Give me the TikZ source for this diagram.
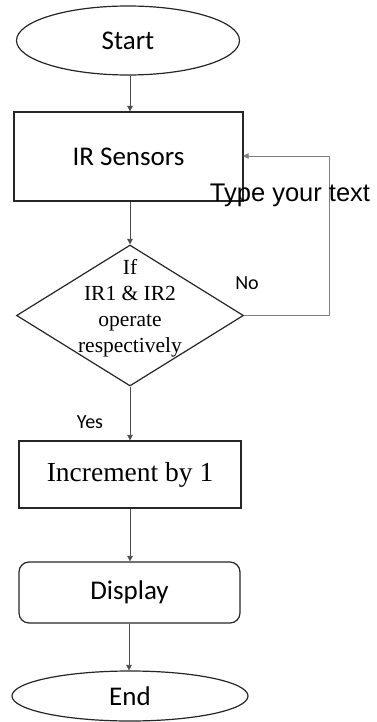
\documentclass[tikz,border=0pt]{standalone}
\usepackage{fontspec}
\setmainfont{Liberation Serif}
\newfontfamily\calfont{Carlito}
\newfontfamily\arialfont{Liberation Sans}
\usetikzlibrary{shapes.geometric,arrows.meta}
\begin{document}
\begin{tikzpicture}[x=1pt,y=-1pt,
  line/.style={draw=black!85,line width=1.2pt},
  arr/.style={draw=black!70,line width=0.7pt,-{Triangle[length=5.5pt,width=5.5pt]}},
  loopline/.style={draw=black!50,line width=0.8pt,-{Triangle[length=5.5pt,width=5.5pt]}},
  term/.style={ellipse,line,inner sep=0pt,font=\calfont\fontsize{27}{32}\selectfont},
  box/.style={rectangle,line,inner sep=0pt,font=\calfont\fontsize{27}{32}\selectfont},
  lbl/.style={font=\calfont\fontsize{20}{24}\selectfont,inner sep=0pt}]
\useasboundingbox (0,0) rectangle (376,722);
\fill[white] (0,0) rectangle (376,722);
\node[term,minimum width=223pt,minimum height=69pt] (start) at (128,40.5) {Start};
\node[box,minimum width=229pt,minimum height=89pt] (ir) at (128.5,156.5) {IR Sensors};
\node[diamond,line,inner sep=0pt,minimum width=227pt,minimum height=141pt] (dec) at (130,315.5) {};
\node[align=center,inner sep=0pt,font=\fontsize{21.5}{26}\selectfont] (dtext) at (130,308) {If\\IR1 \& IR2\\operate\\respectively};
\node[box,font=\fontsize{27.5}{32}\selectfont,minimum width=222pt,minimum height=67pt] (inc) at (130,474.5) {Increment by 1};
\node[box,rounded corners=10pt,minimum width=221pt,minimum height=61pt] (disp) at (129.5,592.5) {Display};
\node[term,minimum width=236pt,minimum height=50pt] (end) at (130,696) {End};
\coordinate (loopA) at (329,315.5);
\coordinate (loopB) at (329,156);
\coordinate (irE) at (243,156);
\draw[arr] (start.south -| 130,0) -- (ir.north -| 130,0);
\draw[arr] (ir.south -| 130,0) -- (dec.north);
\draw[arr] (dec.south) -- (inc.north -| dec.south);
\draw[arr] (inc.south -| 130,0) -- (disp.north -| 130,0);
\draw[arr] (disp.south -| 129,0) -- (end.north -| 129,0);
\draw[loopline] (dec.east) -- (loopA) -- (loopB) -- (irE);
\node[lbl] (no) at (247,283) {No};
\node[lbl] (yes) at (90,422) {Yes};
\node[font=\arialfont\fontsize{25.5}{30}\selectfont,inner sep=0pt] (typ) at (290,195) {Type your text};
\end{tikzpicture}
\end{document}
